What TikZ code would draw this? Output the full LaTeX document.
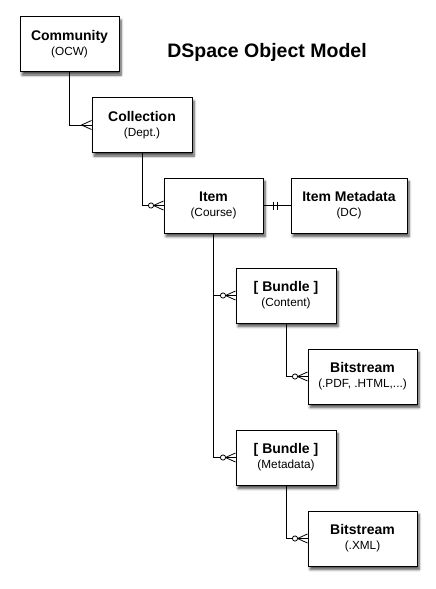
\documentclass[tikz,border=0pt]{standalone}
\usepackage{fontspec}
\setmainfont{Liberation Sans}
\usetikzlibrary{shadows,shadows.blur}

\newcommand{\crowfoot}[1]{%
\draw[conn] (#1.west) ++(-10,0) -- ++(10,4.5);
\draw[conn] (#1.west) ++(-10,0) -- ++(10,-4.5);}
\newcommand{\crowcircle}[1]{%
\crowfoot{#1}
\draw[conn,fill=white] (#1.west) ++(-12.5,0) circle[radius=2.6pt];}

\begin{document}
\begin{tikzpicture}[x=1pt,y=-1pt,
  entity/.style={draw,line width=1pt,fill=white,align=center,
    blur shadow={shadow xshift=2pt,shadow yshift=-3.5pt,shadow blur steps=6,
      shadow blur radius=2.5pt,shadow opacity=70},
    minimum width=#1,minimum height=55pt,inner sep=0pt},
  entity/.default=100pt,
  conn/.style={line width=0.8pt}]
\useasboundingbox (0,0) rectangle (436,589);

\newcommand{\etitle}[1]{{\fontsize{14}{16}\selectfont\bfseries #1}}
\newcommand{\esub}[1]{{\fontsize{11.8}{14}\selectfont #1}}

\node[font=\fontsize{19.5}{22}\selectfont\bfseries] (title) at (267,52) {DSpace Object Model};

\node[entity=99pt] (comm) at (69.5,44) {\etitle{Community}\\[3pt]\esub{(OCW)}};
\node[entity] (coll) at (142,125) {\etitle{Collection}\\[3pt]\esub{(Dept.)}};
\node[entity=99pt] (item) at (213.5,205.5) {\etitle{Item}\\[3pt]\esub{(Course)}};
\node[entity=116pt] (meta) at (349,205.5) {\etitle{Item Metadata}\\[3pt]\esub{(DC)}};

\node[entity] (bunc) at (286,295.5) {\etitle{[ Bundle ]}\\[3pt]\esub{(Content)}};
\node[entity=109pt] (bitc) at (362.5,376.5) {\etitle{Bitstream}\\[3pt]\esub{(.PDF, .HTML,...)}};
\node[entity] (bunm) at (286,457.5) {\etitle{[ Bundle ]}\\[3pt]\esub{(Metadata)}};
\node[entity=109pt] (bitm) at (362.5,538.5) {\etitle{Bitstream}\\[3pt]\esub{(.XML)}};


\draw[conn] (comm.south) |- (coll.west);
\crowfoot{coll}
\draw[conn] (coll.south) |- (item.west);
\crowcircle{item}
\draw[conn] (item.east) -- (meta.west);
\draw[conn] (item.east) ++(9.5,-4) -- ++(0,8);
\draw[conn] (item.east) ++(14,-4) -- ++(0,8);

\draw[conn] (item.south) |- (bunc.west);
\crowcircle{bunc}
\draw[conn] (item.south) |- (bunm.west);
\crowcircle{bunm}

\draw[conn] (bunc.south) |- (bitc.west);
\crowcircle{bitc}
\draw[conn] (bunm.south) |- (bitm.west);
\crowcircle{bitm}
\end{tikzpicture}
\end{document}
